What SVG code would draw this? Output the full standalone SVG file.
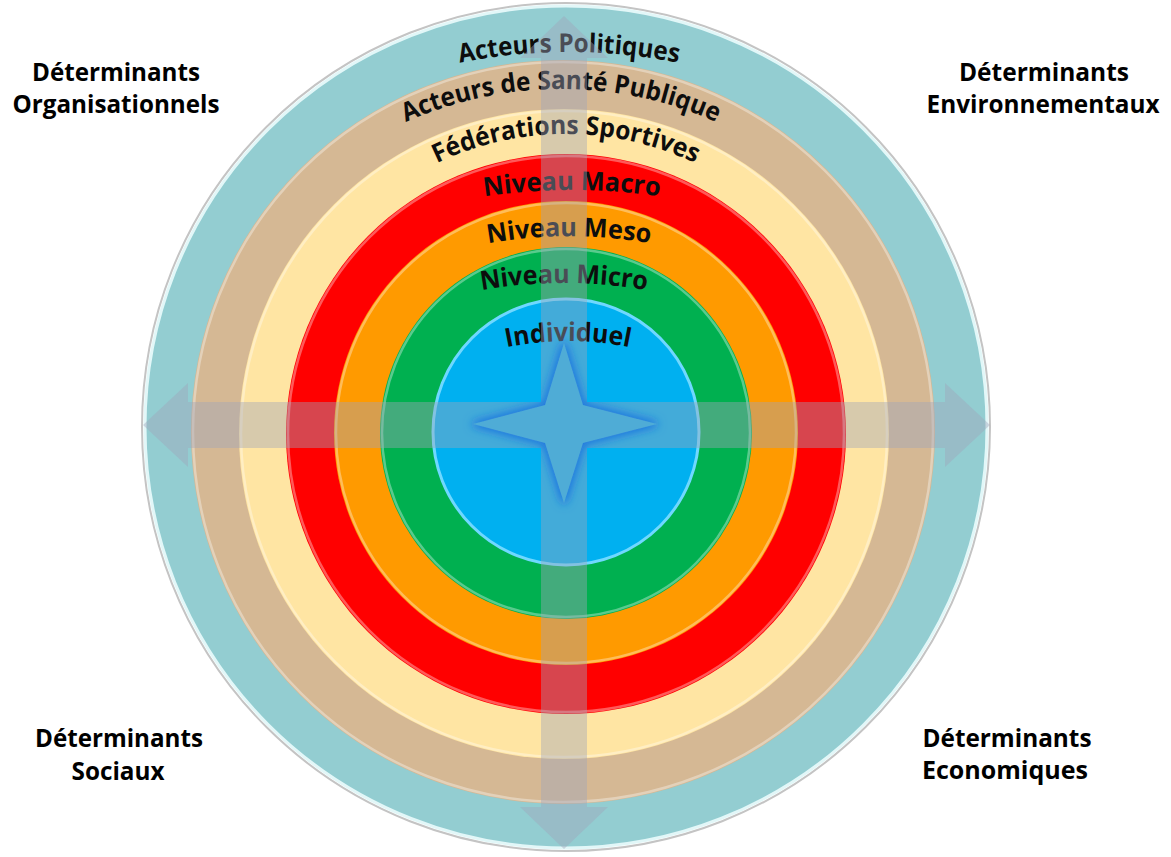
<svg xmlns="http://www.w3.org/2000/svg" width="1171" height="857" viewBox="0 0 1171 857">
<style>
.lbl{font-family:"Open Sans","Liberation Sans",sans-serif;font-weight:700;font-size:24.5px;fill:#000;text-anchor:middle}
.rt{font-family:"Open Sans","Liberation Sans",sans-serif;font-weight:700;font-size:26px;fill:#0d0d0d;text-anchor:middle}
.hl{fill:none;stroke:#ffffff;stroke-opacity:0.35;stroke-width:2.5}
.band{fill:rgb(160,165,185);fill-opacity:0.42}
</style>
<defs>
<path id="p1" d="M9,612 A560,560 0 0 1 1129,612"/>
<path id="p2" d="M181,469 A380,380 0 0 1 941,469"/>
<path id="p3" d="M266,434 A300,300 0 0 1 866,434"/>
<path id="p4" d="M-28,790 A600,600 0 0 1 1172,790"/>
<path id="p5" d="M109,696 A460,460 0 0 1 1029,696"/>
<path id="p6" d="M84,763 A480,480 0 0 1 1044,763"/>
<path id="p7" d="M265,644 A303,303 0 0 1 871,644"/>
<path id="cross" d="M564,16 L608,58 L587,58 L587,402 L945,402 L945,383 L990,425 L945,467 L945,448 L587,448 L587,807 L608,807 L564,849 L520,807 L541,807 L541,448 L188,448 L188,467 L143,425 L188,383 L188,402 L541,402 L541,58 L520,58 Z"/>
<clipPath id="crossClip"><use href="#cross"/></clipPath>
<filter id="glow" x="-30%" y="-30%" width="160%" height="160%">
<feMorphology in="SourceAlpha" operator="dilate" radius="2" result="d"/>
<feGaussianBlur in="d" stdDeviation="5" result="b"/>
<feFlood flood-color="#1a6fe0" flood-opacity="0.9"/>
<feComposite in2="b" operator="in" result="g"/>
<feComposite in="g" in2="SourceAlpha" operator="out"/>
</filter>
</defs>
<rect width="1171" height="857" fill="#ffffff"/>

<g id="acteurs-politiques">
<circle cx="566" cy="427" r="424" fill="none" stroke="#c4c4c4" stroke-width="2"/>
<circle cx="566" cy="427" r="421" fill="#93CDD1" stroke="#e2f7f8" stroke-width="3"/>
<text class="rt"><textPath href="#p1" startOffset="50%" textLength="220" lengthAdjust="spacingAndGlyphs">Acteurs Politiques</textPath></text>
</g>
<g id="acteurs-sante-publique">
<circle cx="563" cy="432" r="372" fill="#D5B894"/>
<circle cx="563" cy="432" r="370" class="hl"/>
<text class="rt"><textPath href="#p2" startOffset="50%" textLength="320" lengthAdjust="spacingAndGlyphs">Acteurs de Santé Publique</textPath></text>
</g>
<g id="federations-sportives">
<circle cx="564" cy="434" r="325" fill="#FFE5A3"/>
<circle cx="564" cy="434" r="323" class="hl"/>
<text class="rt"><textPath href="#p3" startOffset="50%" textLength="267" lengthAdjust="spacingAndGlyphs">Fédérations Sportives</textPath></text>
</g>
<g id="niveau-macro">
<circle cx="566" cy="434" r="280" fill="#FF0000"/>
<circle cx="566" cy="434" r="278" class="hl"/>
<text class="rt"><textPath href="#p4" startOffset="50%" textLength="176" lengthAdjust="spacingAndGlyphs">Niveau Macro</textPath></text>
</g>
<g id="niveau-meso">
<circle cx="566" cy="433" r="232" fill="#FF9A00"/>
<circle cx="566" cy="433" r="230" class="hl"/>
<text class="rt"><textPath href="#p5" startOffset="50%" textLength="163" lengthAdjust="spacingAndGlyphs">Niveau Meso</textPath></text>
</g>
<g id="niveau-micro">
<circle cx="566" cy="433" r="186" fill="#00B050"/>
<circle cx="566" cy="433" r="184" class="hl"/>
<text class="rt"><textPath href="#p6" startOffset="50%" textLength="166" lengthAdjust="spacingAndGlyphs">Niveau Micro</textPath></text>
</g>
<g id="individuel">
<circle cx="566" cy="432" r="133" fill="#00B0F0" stroke="#6fd8ff" stroke-width="3"/>
<text class="rt"><textPath href="#p7" startOffset="50%" textLength="124" lengthAdjust="spacingAndGlyphs">Individuel</textPath></text>
</g>

<g id="connectors">
<use href="#cross" class="band"/>
</g>

<g id="compass">
<g clip-path="url(#crossClip)">
<path d="M564,343 L583,405 L657,424 L583,443 L564,503 L545,443 L473,424 L545,405 Z" fill="#000" filter="url(#glow)"/>
</g>
<path d="M564,343 L583,405 L657,424 L583,443 L564,503 L545,443 L473,424 L545,405 Z" fill="rgb(175,180,200)" fill-opacity="0.12"/>
</g>

<g id="det-organisationnels">
<text class="lbl" x="116" y="81" textLength="168" lengthAdjust="spacingAndGlyphs">Déterminants</text>
<text class="lbl" x="116" y="113" textLength="207" lengthAdjust="spacingAndGlyphs">Organisationnels</text>
</g>
<g id="det-environnementaux">
<text class="lbl" x="1044" y="81" textLength="170" lengthAdjust="spacingAndGlyphs">Déterminants</text>
<text class="lbl" x="1043" y="113" textLength="233" lengthAdjust="spacingAndGlyphs">Environnementaux</text>
</g>
<g id="det-sociaux">
<text class="lbl" x="119" y="747" textLength="168" lengthAdjust="spacingAndGlyphs">Déterminants</text>
<text class="lbl" x="118" y="780" textLength="93" lengthAdjust="spacingAndGlyphs">Sociaux</text>
</g>
<g id="det-economiques">
<text class="lbl" x="1007" y="747" textLength="169" lengthAdjust="spacingAndGlyphs">Déterminants</text>
<text class="lbl" x="1005" y="779" textLength="166" lengthAdjust="spacingAndGlyphs">Economiques</text>
</g>
</svg>
